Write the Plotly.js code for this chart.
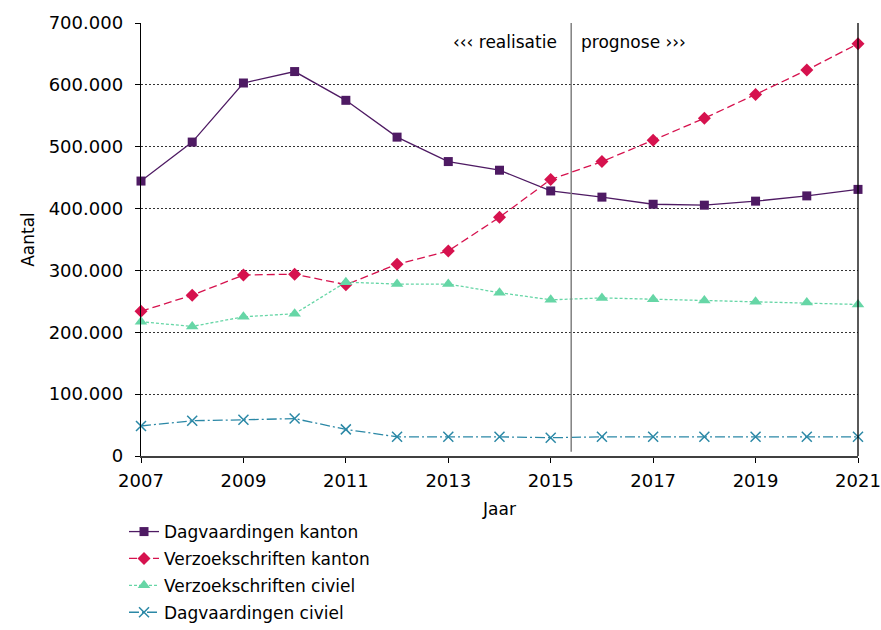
<!DOCTYPE html>
<html>
<head>
<meta charset="utf-8">
<script src="https://cdn.plot.ly/plotly-3.0.1.min.js"></script>
<style>html,body{margin:0;padding:0;background:#fff;}#chart{width:881px;height:630px;}</style>
</head>
<body>
<div id="chart"></div>
<script>
const years = [2007, 2008, 2009, 2010, 2011, 2012, 2013, 2014, 2015, 2016, 2017, 2018, 2019, 2020, 2021];
const dagvaardingenKanton = [444500, 507500, 603000, 621500, 575000, 515500, 476000, 462000, 428500, 418500, 407000, 405500, 412000, 420500, 431000];
const verzoekschriftenKanton = [234000, 260000, 292500, 294000, 277000, 310000, 331500, 386000, 447000, 476000, 510500, 546000, 584500, 624000, 666500];
const verzoekschriftenCiviel = [217000, 209500, 225000, 230000, 281000, 278000, 278000, 264000, 252500, 255500, 253500, 251500, 249500, 248000, 245000];
const dagvaardingenCiviel = [48500, 57000, 58500, 60500, 43000, 31000, 31000, 31000, 29500, 31000, 31000, 31000, 31000, 31000, 31000];
const seriesNames = ["Dagvaardingen kanton", "Verzoekschriften kanton", "Verzoekschriften civiel", "Dagvaardingen civiel"];
const splitYear = 2015.4;

const font = "DejaVu Sans, Verdana, sans-serif";

const traces = [
  {x: years, y: dagvaardingenKanton, name: seriesNames[0], legendgroup: "g1", mode: "lines+markers", cliponaxis: false,
   line: {color: "#4E1A63", width: 1.3, dash: "solid"},
   marker: {symbol: "square", size: 9, color: "#4E1A63"}},
  {x: years, y: verzoekschriftenKanton, name: seriesNames[1], legendgroup: "g2", mode: "lines+markers", cliponaxis: false,
   line: {color: "#D6124E", width: 1.3, dash: "8px,4px"},
   marker: {symbol: "diamond", size: 10, color: "#D6124E"}},
  {x: years, y: verzoekschriftenCiviel, name: seriesNames[2], legendgroup: "g3", mode: "lines+markers", cliponaxis: false,
   line: {color: "#66D6A6", width: 1.3, dash: "3px,2px"},
   marker: {symbol: "triangle-up", size: 11, color: "#66D6A6"}},
  {x: years, y: dagvaardingenCiviel, name: seriesNames[3], legendgroup: "g4", mode: "lines+markers", cliponaxis: false,
   line: {color: "#2B88A6", width: 1.3, dash: "10px,3px,2px,3px"},
   marker: {symbol: "x-thin", size: 10, color: "#2B88A6", line: {color: "#2B88A6", width: 1.5}}}
];

const layout = {
  width: 881, height: 630,
  margin: {l: 141, r: 23, t: 23, b: 174, autoexpand: false},
  paper_bgcolor: "#fff", plot_bgcolor: "#fff",
  separators: ",.",
  font: {family: font, size: 17, color: "#000"},
  showlegend: true,
  legend: {orientation: "v", x: -0.0237, xanchor: "left", y: -0.134, yanchor: "top",
           font: {family: font, size: 17, color: "#000"}, bgcolor: "rgba(0,0,0,0)", tracegroupgap: 1.8},
  xaxis: {range: [2007, 2021], tickvals: [2007, 2009, 2011, 2013, 2015, 2017, 2019, 2021],
          ticks: "outside", ticklen: 5, tickcolor: "#000", showgrid: false, zeroline: false,
          showline: true, linecolor: "#404040", linewidth: 2, ticklabelstandoff: 2,
          tickfont: {family: font, size: 18},
          title: {text: "Jaar", font: {family: font, size: 17}, standoff: 14}},
  yaxis: {range: [0, 700000], dtick: 100000, tickformat: ",.0f",
          ticks: "outside", ticklen: 5, tickcolor: "#000", ticklabelstandoff: 8,
          showgrid: true, gridcolor: "#333", griddash: "2px,2px", gridwidth: 1, zeroline: false,
          showline: true, linecolor: "#000", linewidth: 1.3,
          tickfont: {family: font, size: 18},
          title: {text: "Aantal", font: {family: font, size: 17}, standoff: 9}},
  shapes: [
    {type: "line", xref: "x", yref: "paper", x0: splitYear, x1: splitYear, y0: 0.01, y1: 1,
     line: {color: "#808080", width: 1.5}},
    {type: "line", xref: "paper", yref: "paper", x0: 1, x1: 1, y0: 0, y1: 1,
     line: {color: "#000", width: 1.3}}
  ],
  annotations: [
    {xref: "x", yref: "paper", x: splitYear, y: 0.957, xanchor: "right", yanchor: "middle", xshift: -12,
     text: "‹‹‹ realisatie", showarrow: false, font: {family: font, size: 17, color: "#000"}},
    {xref: "x", yref: "paper", x: splitYear, y: 0.957, xanchor: "left", yanchor: "middle", xshift: 8,
     text: "prognose ›››", showarrow: false, font: {family: font, size: 17, color: "#000"}}
  ]
};

Plotly.newPlot("chart", traces, layout, {displayModeBar: false, staticPlot: true});
</script>
</body>
</html>
